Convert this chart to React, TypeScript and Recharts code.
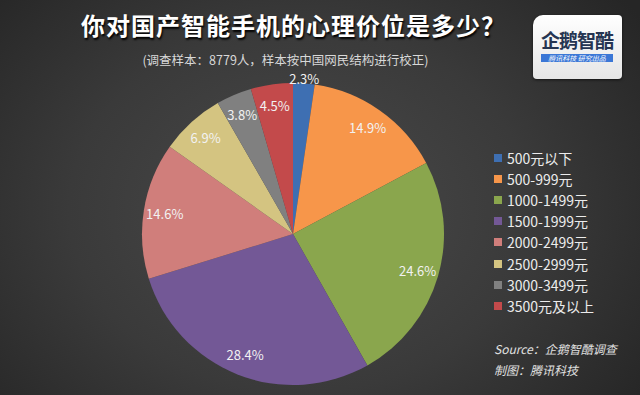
import { Pie, PieChart, Cell } from "recharts";

const categories = ["500元以下", "500-999元", "1000-1499元", "1500-1999元", "2000-2499元", "2500-2999元", "3000-3499元", "3500元及以上"];
const shares = [2.3, 14.9, 24.6, 28.4, 14.6, 6.9, 3.8, 4.5];
const colors = ["#3e6fb2", "#f7964a", "#8aa64d", "#735896", "#d07e7b", "#d4c481", "#808080", "#c34a4b"];

const data = categories.map((name, i) => ({ name, value: shares[i] }));

const FONT = '"Noto Sans CJK SC", "Noto Sans", sans-serif';
const RAD = Math.PI / 180;

function renderLabel(props: any) {
  const { cx, cy, midAngle, outerRadius, value } = props;
  const r = value < 3 ? outerRadius + 5 : outerRadius * 0.86;
  const x = cx + r * Math.cos(-midAngle * RAD);
  const y = cy + r * Math.sin(-midAngle * RAD);
  return (
    <text x={x} y={y} fill="#f2f2f2" fontSize={13} fontFamily={FONT} textAnchor="middle" dominantBaseline="central">
      {value.toFixed(1)}%
    </text>
  );
}

export default function App() {
  return (
    <div
      style={{
        position: "absolute",
        left: 0,
        top: 0,
        width: 640,
        height: 395,
        overflow: "hidden",
        fontFamily: FONT,
        background: "radial-gradient(ellipse 420px 330px at 300px 210px, #4a4a4a 0%, #3a3a3a 55%, #262626 100%)",
      }}
    >
      <div
        style={{
          position: "absolute",
          left: 0,
          width: 587,
          top: 8,
          textAlign: "center",
          color: "#ffffff",
          fontSize: 24,
          fontWeight: 700,
          lineHeight: "34px",
          letterSpacing: 1,
          textShadow: "1px 2px 2px #000",
        }}
      >
        你对国产智能手机的心理价位是多少？
      </div>
      <div
        style={{
          position: "absolute",
          left: 0,
          width: 571,
          top: 53,
          textAlign: "center",
          color: "#d8d8d8",
          fontSize: 12.5,
          lineHeight: "14px",
        }}
      >
        (调查样本：8779人，样本按中国网民结构进行校正)
      </div>

      <div
        style={{
          position: "absolute",
          left: 533,
          top: 15,
          width: 89,
          height: 64,
          background: "linear-gradient(#ffffff, #e6e6e6)",
          borderRadius: "10px 4px 4px 4px",
          boxShadow: "0 1px 3px rgba(0,0,0,0.6)",
        }}
      >
        <div style={{ position: "absolute", left: 8, top: 14, fontSize: 19, fontWeight: 700, color: "#253552", lineHeight: "22px", letterSpacing: -1 }}>
          企鹅智酷
        </div>
        <div
          style={{
            position: "absolute",
            left: 8,
            top: 39,
            width: 72,
            height: 8,
            background: "#3b77d6",
            color: "#ffffff",
            fontSize: 7,
            lineHeight: "8px",
            textAlign: "center",
            fontStyle: "italic",
          }}
        >
          腾讯科技 研究出品
        </div>
      </div>

      <div style={{ position: "absolute", left: 0, top: 0 }}>
        <PieChart width={640} height={395} margin={{ top: 0, right: 0, bottom: 0, left: 0 }}>
          <Pie
            data={data}
            dataKey="value"
            nameKey="name"
            cx={293}
            cy={234}
            outerRadius={151}
            startAngle={90}
            endAngle={-270}
            stroke="none"
            label={renderLabel}
            labelLine={false}
            isAnimationActive={false}
          >
            {data.map((d, i) => (
              <Cell key={d.name} fill={colors[i]} />
            ))}
          </Pie>
        </PieChart>
      </div>

      <div style={{ position: "absolute", left: 494, top: 147 }}>
        {categories.map((c, i) => (
          <div key={c} style={{ display: "flex", alignItems: "center", height: 21.2, color: "#ececec", fontSize: 14 }}>
            <span style={{ width: 8, height: 8, background: colors[i], marginRight: 5, display: "inline-block" }} />
            <span>{c}</span>
          </div>
        ))}
      </div>

      <div style={{ position: "absolute", left: 494, top: 338, color: "#e0e0e0", fontSize: 12, fontStyle: "italic", lineHeight: "21px" }}>
        <div>Source：企鹅智酷调查</div>
        <div>制图：腾讯科技</div>
      </div>
    </div>
  );
}
